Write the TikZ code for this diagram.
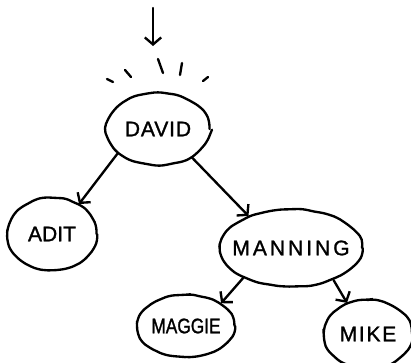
\documentclass[tikz,border=0pt]{standalone}
\usepackage{fontspec}
\setmainfont{Liberation Sans}[FakeBold=1.2]
\usetikzlibrary{arrows.meta,shapes.geometric,decorations.pathmorphing}
\pgfmathsetseed{7}
\tikzset{
  every picture/.style={
    line join=round,
    line cap=round,
    line width=2pt,
  },
  % hand drawn looking ovals
  person/.style={
    ellipse, draw, inner sep=-16pt,
    font=\fontsize{18}{18}\selectfont,
    decorate, decoration={random steps,segment length=7pt,amplitude=.6pt},
    rounded corners=4pt,
  },
  edge/.style={-{Straight Barb[length=6pt,width=14pt]}},
}
\begin{document}
\begin{tikzpicture}[x=0.03cm,y=-0.03cm]
\useasboundingbox (0,0) rectangle (411,363);
% the search starts here
\coordinate (start) at (153,8);
\coordinate (look) at (153,46);
\draw[edge] (start) -- (look);
\foreach \xa/\ya/\xb/\yb in {107/79/113/82, 125/70/131/77, 158/59/163/73,
  182/63/180/75, 208/77/203/81}
  \draw (\xa,\ya) -- (\xb,\yb);
% tree
\node[person, minimum width=3.09cm, minimum height=2.16cm] (david) at (158,129)
  {\addfontfeature{LetterSpace=4}DAVID};
\node[person, minimum width=2.67cm, minimum height=2.16cm] (adit) at (52,234) {ADIT};
\node[person, minimum width=4.26cm, minimum height=2.31cm] (manning) at (291,248)
  {\addfontfeature{LetterSpace=14}MANNING};
\node[person, minimum width=2.91cm, minimum height=1.86cm] (maggie) at (186,326)
  {\addfontfeature{FakeStretch=0.82}MAGGIE};
\node[person, minimum width=2.64cm, minimum height=2.04cm] (mike) at (368,334)
  {\addfontfeature{LetterSpace=8}MIKE};
\draw[edge] (david.211) -- (adit.48);
\draw[edge] (david.320) -- (manning.143);
\draw[edge] (manning.212) -- (maggie.33);
\draw[edge] (manning.323) -- (mike.124);
\end{tikzpicture}
\end{document}
